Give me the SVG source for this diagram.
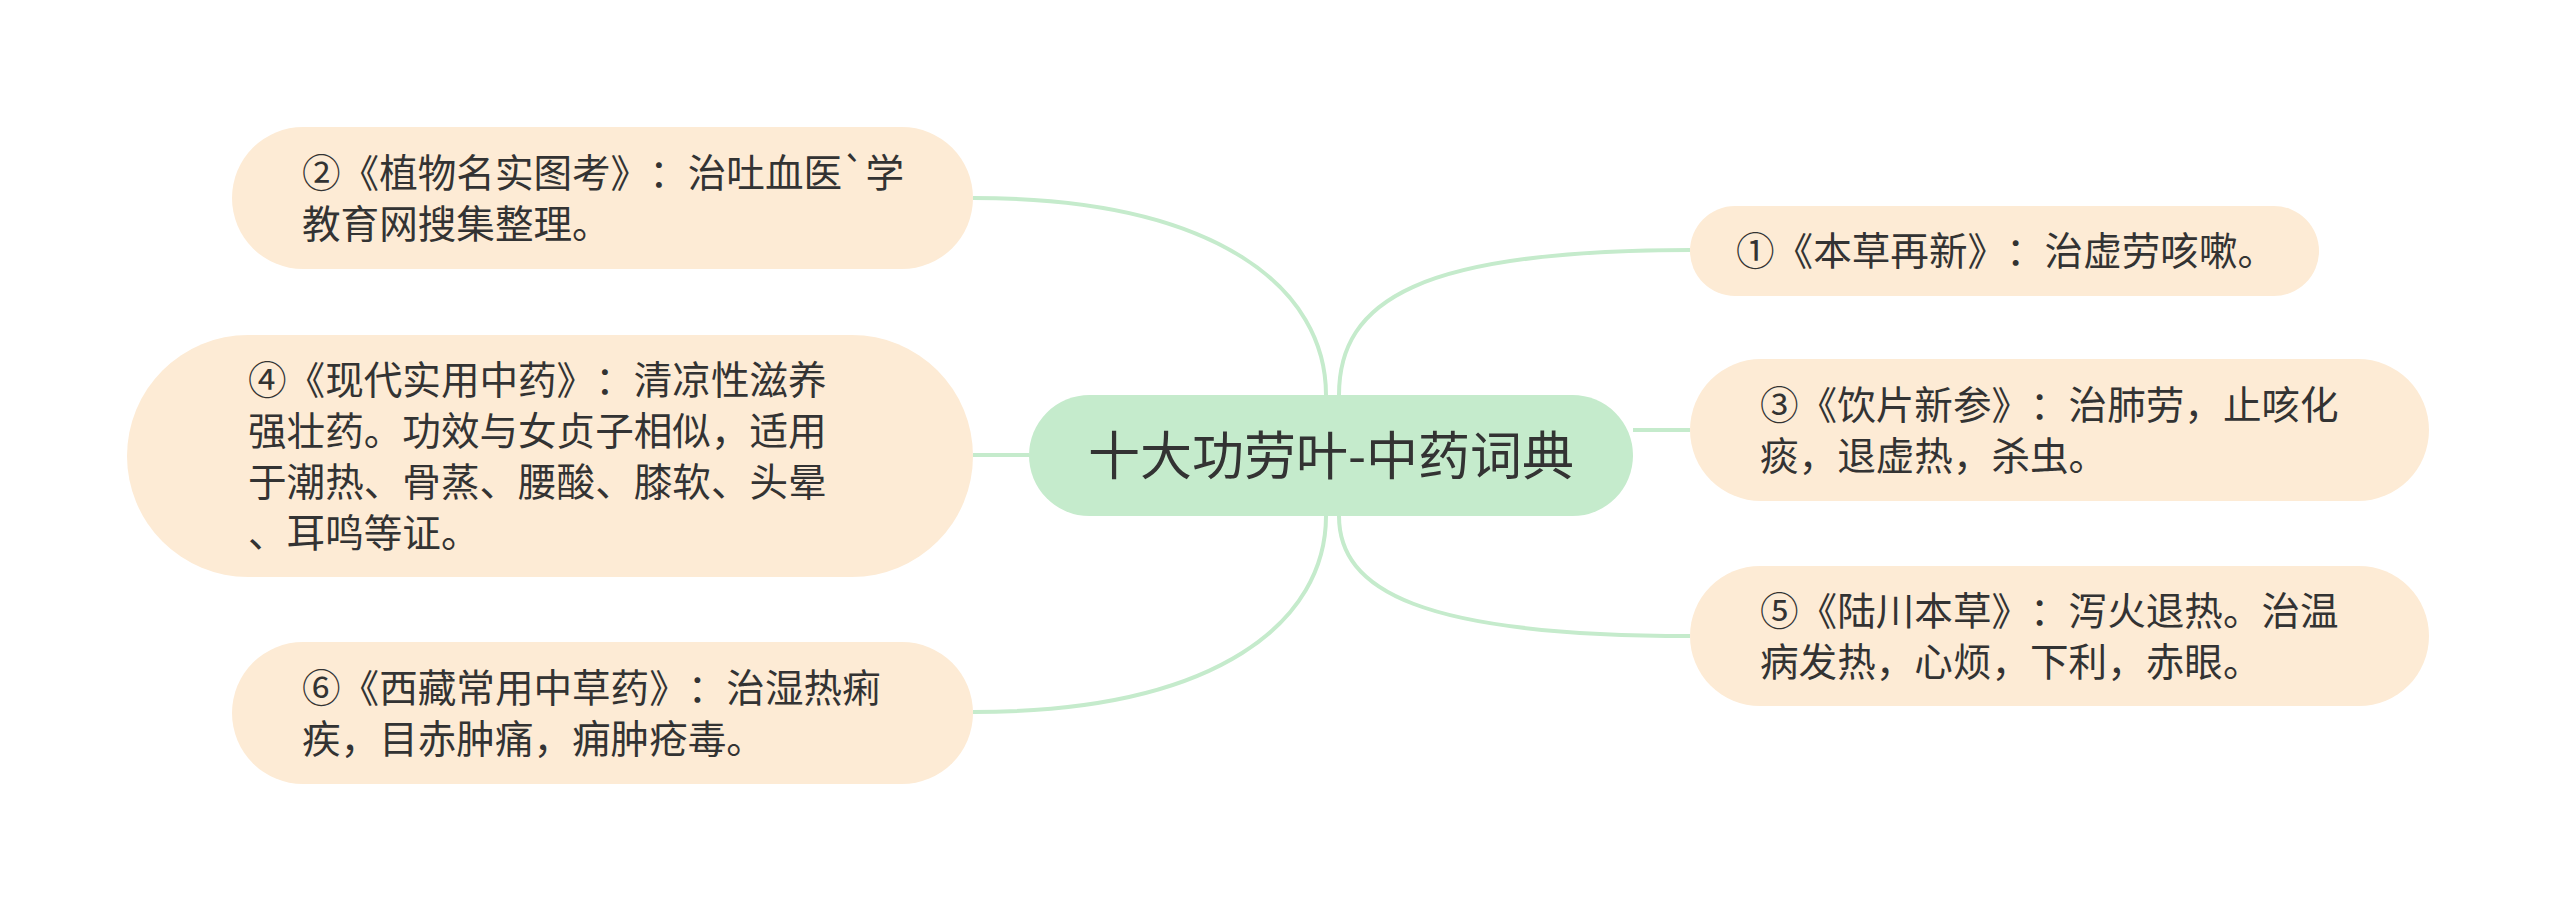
<svg xmlns="http://www.w3.org/2000/svg" width="2560" height="913" viewBox="0 0 2560 913">
<style>
text{text-spacing-trim:space-all}
.n{fill:#fdebd5}
.c{fill:#c5ebcc}
.t{font-family:"Noto Sans CJK SC","Noto Sans",sans-serif;font-size:38.6px;fill:#333333}
.ct{font-family:"Noto Sans CJK SC","Noto Sans",sans-serif;font-size:52px;fill:#333333}
.e{fill:none;stroke:#c5ebcc;stroke-width:4}
</style>
<rect width="2560" height="913" fill="#ffffff"/>
<g id="connectors">
<path class="e" d="M1326,395 C1326,290 1220,198 973,198"/>
<path class="e" d="M1029,455 L973,455"/>
<path class="e" d="M1326,516 C1326,620 1220,712 973,712"/>
<path class="e" d="M1339,395 C1339,300 1420,250 1690,250"/>
<path class="e" d="M1633,430 L1690,430"/>
<path class="e" d="M1339,516 C1339,590 1420,636 1690,636"/>
</g>
<g id="center">
<rect class="c" x="1029" y="395" width="604" height="121" rx="60.5"/>
<text class="ct" x="1331" y="475" text-anchor="middle">十大功劳叶-中药词典</text>
</g>
<g id="node2">
<rect class="n" x="232" y="127" width="741" height="142" rx="71"/>
<text class="t" x="302" y="187">②《植物名实图考》：治吐血医`学</text>
<text class="t" x="302" y="238">教育网搜集整理。</text>
</g>
<g id="node4">
<rect class="n" x="127" y="335" width="846" height="242" rx="121"/>
<text class="t" x="248" y="394">④《现代实用中药》：清凉性滋养</text>
<text class="t" x="248" y="445">强壮药。功效与女贞子相似，适用</text>
<text class="t" x="248" y="496">于潮热、骨蒸、腰酸、膝软、头晕</text>
<text class="t" x="248" y="547">、耳鸣等证。</text>
</g>
<g id="node6">
<rect class="n" x="232" y="642" width="741" height="142" rx="71"/>
<text class="t" x="302" y="702">⑥《西藏常用中草药》：治湿热痢</text>
<text class="t" x="302" y="753">疾，目赤肿痛，痈肿疮毒。</text>
</g>
<g id="node1">
<rect class="n" x="1690" y="206" width="629" height="90" rx="45"/>
<text class="t" x="1736" y="265">①《本草再新》：治虚劳咳嗽。</text>
</g>
<g id="node3">
<rect class="n" x="1690" y="359" width="739" height="142" rx="71"/>
<text class="t" x="1760" y="419">③《饮片新参》：治肺劳，止咳化</text>
<text class="t" x="1760" y="470">痰，退虚热，杀虫。</text>
</g>
<g id="node5">
<rect class="n" x="1690" y="566" width="739" height="140" rx="70"/>
<text class="t" x="1760" y="625">⑤《陆川本草》：泻火退热。治温</text>
<text class="t" x="1760" y="676">病发热，心烦，下利，赤眼。</text>
</g>
</svg>
